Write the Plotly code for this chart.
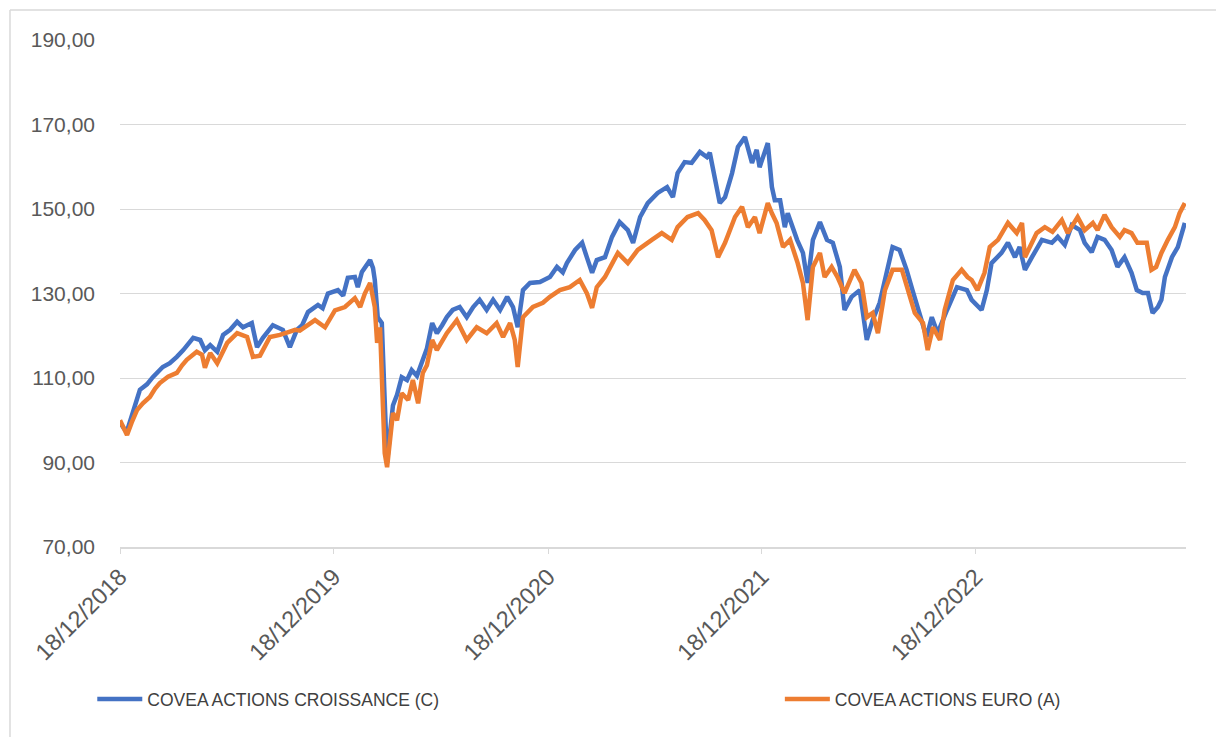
import plotly.graph_objects as go

# ---------------- data ----------------
dates_croissance = [
    "2018-12-18", "2018-12-25", "2018-12-30", "2019-01-09", "2019-01-21", "2019-02-02", "2019-02-12",
    "2019-03-01", "2019-03-13", "2019-03-25", "2019-04-05", "2019-04-22", "2019-05-04", "2019-05-12",
    "2019-05-21", "2019-06-02", "2019-06-12", "2019-06-24", "2019-07-06", "2019-07-16", "2019-07-31",
    "2019-08-09", "2019-08-19", "2019-09-05", "2019-09-22", "2019-10-04", "2019-10-16", "2019-10-25",
    "2019-11-04", "2019-11-21", "2019-11-29", "2019-12-08", "2019-12-25", "2020-01-03", "2020-01-11",
    "2020-01-23", "2020-01-28", "2020-02-04", "2020-02-18", "2020-02-23", "2020-02-26", "2020-03-02",
    "2020-03-09", "2020-03-13", "2020-03-18", "2020-03-23", "2020-03-28", "2020-04-04", "2020-04-12",
    "2020-04-21", "2020-04-29", "2020-05-08", "2020-05-16", "2020-05-25", "2020-06-03", "2020-06-11",
    "2020-06-20", "2020-06-28", "2020-07-08", "2020-07-20", "2020-08-01", "2020-08-12", "2020-08-23",
    "2020-09-04", "2020-09-15", "2020-09-27", "2020-10-09", "2020-10-19", "2020-10-27", "2020-11-05",
    "2020-11-17", "2020-12-04", "2020-12-21", "2021-01-02", "2021-01-12", "2021-01-19", "2021-02-02",
    "2021-02-14", "2021-02-22", "2021-03-03", "2021-03-11", "2021-03-25", "2021-04-06", "2021-04-19",
    "2021-05-03", "2021-05-12", "2021-05-24", "2021-06-06", "2021-06-23", "2021-07-09", "2021-07-19",
    "2021-07-27", "2021-08-08", "2021-08-20", "2021-09-03", "2021-09-15", "2021-09-20", "2021-09-29",
    "2021-10-07", "2021-10-16", "2021-10-28", "2021-11-07", "2021-11-19", "2021-12-01", "2021-12-09",
    "2021-12-14", "2021-12-28", "2022-01-04", "2022-01-09", "2022-01-18", "2022-01-26", "2022-01-31",
    "2022-02-16", "2022-02-26", "2022-03-06", "2022-03-15", "2022-03-27", "2022-04-08", "2022-04-18",
    "2022-04-30", "2022-05-08", "2022-05-20", "2022-06-03", "2022-06-15", "2022-06-25", "2022-07-07",
    "2022-07-19", "2022-07-29", "2022-08-10", "2022-08-22", "2022-09-01", "2022-09-13", "2022-09-25",
    "2022-10-04", "2022-10-14", "2022-10-30", "2022-11-16", "2022-12-03", "2022-12-11", "2022-12-28",
    "2023-01-06", "2023-01-14", "2023-01-31", "2023-02-11", "2023-02-23", "2023-03-03", "2023-03-12",
    "2023-03-24", "2023-04-10", "2023-04-27", "2023-05-07", "2023-05-19", "2023-05-31", "2023-06-14",
    "2023-06-22", "2023-07-04", "2023-07-14", "2023-07-26", "2023-08-07", "2023-08-17", "2023-08-29",
    "2023-09-10", "2023-09-19", "2023-09-29", "2023-10-08", "2023-10-16", "2023-10-25", "2023-10-31",
    "2023-11-06", "2023-11-18", "2023-11-28", "2023-12-10",
]
croissance = [
    99.5, 98.0, 97.5, 102.0, 107.2, 108.5, 110.2,
    112.6, 113.5, 115.0, 116.6, 119.5, 119.0, 116.6,
    117.8, 116.2, 120.2, 121.4, 123.3, 122.0, 123.0,
    117.3, 119.5, 122.5, 121.4, 117.3, 121.4, 122.5,
    125.6, 127.3, 126.5, 130.0, 130.8, 129.5, 133.7,
    133.9, 131.5, 135.1, 137.9, 136.0, 133.2, 124.4,
    123.0, 108.0, 90.0, 97.0, 103.5, 106.0, 110.2,
    109.5, 111.9, 110.5, 113.5, 117.0, 123.0, 120.6,
    122.5, 124.4, 126.1, 126.8, 124.4, 126.8, 128.5,
    126.1, 128.5, 126.1, 129.2, 126.8, 122.0, 130.8,
    132.5, 132.7, 133.9, 136.3, 135.0, 137.2, 140.3,
    142.0, 138.6, 134.9, 137.9, 138.6, 143.4, 146.9,
    145.0, 142.0, 148.1, 151.4, 153.8, 155.2, 152.8,
    158.5, 161.1, 160.9, 163.5, 162.3, 163.3, 156.9,
    151.4, 152.8, 158.5, 164.7, 167.0, 160.9, 164.0,
    159.9, 165.6, 155.2, 152.1, 152.1, 145.7, 149.0,
    142.7, 139.6, 132.5, 142.7, 146.9, 142.7, 142.0,
    136.3, 126.1, 129.2, 130.8, 119.0, 123.7, 127.8,
    135.6, 141.0, 140.3, 135.6, 130.8, 125.4, 119.7,
    124.4, 120.6, 126.1, 131.5, 130.8, 128.5, 126.1,
    130.8, 137.2, 139.6, 142.0, 138.6, 141.0, 135.6,
    138.6, 142.7, 142.0, 143.4, 141.5, 146.2, 145.0,
    142.0, 139.8, 143.4, 142.7, 140.3, 136.3, 138.6,
    134.9, 130.8, 130.1, 130.1, 125.4, 126.8, 128.5,
    133.9, 138.6, 141.0, 146.7,
]

dates_euro = [
    "2018-12-18", "2018-12-25", "2018-12-30", "2019-01-07", "2019-01-16", "2019-01-26", "2019-02-07",
    "2019-02-16", "2019-02-24", "2019-03-10", "2019-03-25", "2019-04-03", "2019-04-11", "2019-04-28",
    "2019-05-07", "2019-05-12", "2019-05-21", "2019-06-02", "2019-06-19", "2019-07-06", "2019-07-23",
    "2019-08-02", "2019-08-14", "2019-08-31", "2019-09-17", "2019-10-04", "2019-10-13", "2019-10-21",
    "2019-10-30", "2019-11-16", "2019-12-03", "2019-12-20", "2020-01-06", "2020-01-23", "2020-02-01",
    "2020-02-09", "2020-02-18", "2020-02-26", "2020-03-01", "2020-03-06", "2020-03-11", "2020-03-14",
    "2020-03-18", "2020-03-23", "2020-03-28", "2020-04-04", "2020-04-12", "2020-04-23", "2020-05-01",
    "2020-05-10", "2020-05-18", "2020-05-25", "2020-06-03", "2020-06-11", "2020-06-28", "2020-07-15",
    "2020-07-24", "2020-08-01", "2020-08-18", "2020-09-04", "2020-09-21", "2020-10-02", "2020-10-14",
    "2020-10-22", "2020-10-27", "2020-11-05", "2020-11-22", "2020-12-09", "2020-12-21", "2021-01-07",
    "2021-01-24", "2021-02-10", "2021-02-22", "2021-03-03", "2021-03-11", "2021-03-25", "2021-04-06",
    "2021-04-16", "2021-05-03", "2021-05-20", "2021-06-13", "2021-06-30", "2021-07-17", "2021-07-27",
    "2021-08-13", "2021-08-31", "2021-09-11", "2021-09-23", "2021-10-04", "2021-10-16", "2021-11-02",
    "2021-11-14", "2021-11-24", "2021-12-06", "2021-12-14", "2021-12-28", "2022-01-04", "2022-01-12",
    "2022-01-23", "2022-02-04", "2022-02-17", "2022-02-26", "2022-03-06", "2022-03-15", "2022-03-27",
    "2022-04-04", "2022-04-16", "2022-04-26", "2022-05-08", "2022-05-25", "2022-06-06", "2022-06-15",
    "2022-06-25", "2022-07-04", "2022-07-16", "2022-07-29", "2022-08-14", "2022-08-24", "2022-09-05",
    "2022-09-19", "2022-09-27", "2022-10-06", "2022-10-18", "2022-10-26", "2022-11-09", "2022-11-24",
    "2022-12-04", "2022-12-11", "2022-12-21", "2023-01-02", "2023-01-11", "2023-01-25", "2023-02-11",
    "2023-02-26", "2023-03-07", "2023-03-12", "2023-03-24", "2023-04-01", "2023-04-15", "2023-04-28",
    "2023-05-14", "2023-05-24", "2023-06-10", "2023-06-22", "2023-07-06", "2023-07-14", "2023-07-26",
    "2023-08-07", "2023-08-21", "2023-08-29", "2023-09-10", "2023-09-20", "2023-10-06", "2023-10-14",
    "2023-10-22", "2023-10-31", "2023-11-11", "2023-11-23", "2023-12-01", "2023-12-10",
]
euro = [
    100.0, 98.0, 96.5, 99.5, 102.4, 104.0, 105.5,
    107.5, 108.8, 110.3, 111.2, 113.0, 114.3, 116.2,
    115.5, 112.4, 115.9, 113.5, 118.3, 120.6, 119.7,
    115.0, 115.3, 119.7, 120.2, 121.0, 121.4, 121.2,
    122.0, 123.7, 122.0, 126.0, 126.8, 128.9, 126.8,
    130.0, 132.5, 126.8, 118.3, 122.0, 103.0, 92.2,
    88.9, 95.3, 101.7, 100.0, 106.4, 104.8, 109.5,
    104.0, 111.2, 113.0, 119.0, 116.6, 120.6, 123.7,
    121.0, 119.0, 122.0, 120.6, 123.0, 119.7, 123.0,
    119.0, 112.6, 124.4, 126.8, 127.8, 129.2, 130.8,
    131.5, 133.2, 130.1, 126.6, 131.5, 133.9, 137.0,
    139.6, 137.2, 140.3, 142.7, 144.3, 142.7, 145.7,
    148.1, 149.0, 147.4, 145.0, 138.6, 142.0, 148.1,
    150.5, 145.7, 148.1, 144.3, 151.4, 149.0, 146.7,
    141.0, 142.7, 137.2, 132.5, 123.7, 136.3, 139.6,
    133.9, 136.3, 133.9, 130.1, 135.6, 132.5, 124.4,
    125.4, 120.6, 130.8, 135.6, 135.6, 130.8, 125.4,
    123.0, 116.6, 122.0, 119.0, 126.1, 133.2, 135.6,
    133.9, 133.2, 130.8, 134.9, 141.0, 142.7, 146.7,
    144.3, 146.7, 138.6, 142.0, 144.3, 145.7, 144.6,
    147.4, 144.3, 148.1, 145.0, 146.7, 145.0, 148.6,
    145.7, 143.4, 145.0, 144.3, 142.0, 142.0, 135.6,
    136.3, 139.6, 142.7, 145.7, 149.0, 151.4,
]

series_names = ["COVEA ACTIONS CROISSANCE (C)", "COVEA ACTIONS EURO (A)"]
x_tick_dates = ["2018-12-18", "2019-12-18", "2020-12-18", "2021-12-18", "2022-12-18"]
x_tick_labels = ["18/12/2018", "18/12/2019", "18/12/2020", "18/12/2021", "18/12/2022"]
y_ticks = [70, 90, 110, 130, 150, 170, 190]
y_tick_labels = ["70,00", "90,00", "110,00", "130,00", "150,00", "170,00", "190,00"]

BLUE = "#4472C4"
ORANGE = "#ED7D31"
GRID = "#D9D9D9"
TXT = "#595959"
FONT = "Liberation Sans"

fig = go.Figure()
fig.add_trace(go.Scatter(x=dates_croissance, y=croissance, mode="lines", name=series_names[0],
                         line=dict(color=BLUE, width=4.5), legend="legend", showlegend=True))
fig.add_trace(go.Scatter(x=dates_euro, y=euro, mode="lines", name=series_names[1],
                         line=dict(color=ORANGE, width=4.5), legend="legend2", showlegend=True))

legend_font = dict(size=17.5, color="#404040", family=FONT)
fig.update_layout(
    width=1224, height=737,
    margin=dict(l=112, r=46, t=32, b=198, autoexpand=False),
    paper_bgcolor="white", plot_bgcolor="white",
    font=dict(family=FONT, color=TXT, size=14),
    showlegend=True,
    legend=dict(orientation="h", x=-0.026, y=-0.30, xanchor="left", yanchor="middle",
                itemwidth=45, font=legend_font, bgcolor="rgba(0,0,0,0)"),
    legend2=dict(orientation="h", x=0.6190, y=-0.30, xanchor="left", yanchor="middle",
                 itemwidth=45, font=legend_font, bgcolor="rgba(0,0,0,0)"),
    xaxis=dict(
        type="date", range=["2018-12-18", "2023-12-12"],
        tickvals=x_tick_dates, ticktext=x_tick_labels, tickangle=-45,
        showgrid=False, showline=True, linecolor=GRID, linewidth=1.5,
        ticks="outside", ticklen=5, tickcolor=GRID,
        tickfont=dict(size=23.5, color=TXT, family=FONT),
        zeroline=False, automargin=False,
    ),
    yaxis=dict(
        range=[70, 190], tickvals=y_ticks, ticktext=y_tick_labels,
        showgrid=True, gridcolor=GRID, gridwidth=1.2, zeroline=False,
        showline=False, ticks="", ticklabelstandoff=24,
        tickfont=dict(size=21, color=TXT, family=FONT), automargin=False,
    ),
    shapes=[
        dict(type="line", xref="paper", yref="paper", x0=-0.1032, x1=1.05, y0=1.059, y1=1.059,
             line=dict(color="#D9D9D9", width=1.5)),
        dict(type="line", xref="paper", yref="paper", x0=-0.1032, x1=-0.1032, y0=1.059, y1=-0.4,
             line=dict(color="#D9D9D9", width=1.5)),
    ],
)

fig.write_html("out.html")
